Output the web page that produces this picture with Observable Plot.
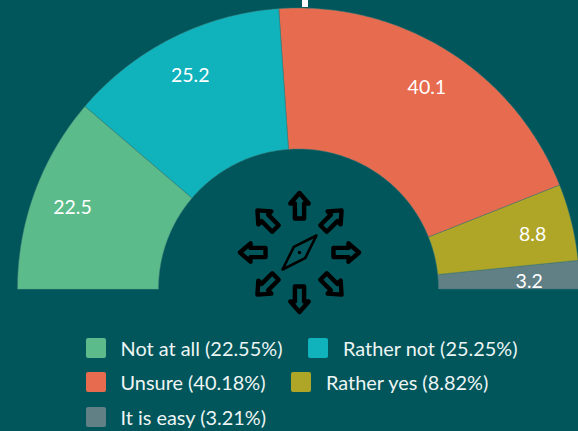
<!DOCTYPE html>
<html>
<head>
<meta charset="utf-8">
<script src="https://cdn.jsdelivr.net/npm/d3@7"></script>
<script src="https://cdn.jsdelivr.net/npm/@observablehq/plot@0.6"></script>
<style>
html,body{margin:0;padding:0;background:#01565b;width:578px;height:431px;overflow:hidden}
svg{display:block}
#legend{position:absolute;left:86px;top:331px;font:19.9px Lato,sans-serif;color:#edf5f4}
.row{display:flex;height:34.3px;align-items:center;white-space:nowrap}
.item{display:flex;align-items:center;margin-right:26px}
.sw{width:20px;height:20px;border-radius:2px;margin-right:14.5px;flex:none}
</style>
</head>
<body>
<div id="chart"></div>
<div id="legend"></div>
<script>
const categories = ["Not at all","Rather not","Unsure","Rather yes","It is easy"];
const shares = [22.55,25.25,40.18,8.82,3.21];
const labels = ["22.5","25.2","40.1","8.8","3.2"];
const colors = ["#5cbb8a","#10b2bc","#e76b4e","#afa527","#618086"];
const iconAngles = [0,45,90,135,180,225,270,315];

const bg = "#01565b";
const W = 578, H = 325, CX = 298.5, CY = 289;
const OUTER = 281, INNER = 140, LABEL_R = 241;
const total = d3.sum(shares);
const ang = p => Math.PI * p / total;     // share position → angle from the left end

// Slices as area bands between the inner and outer radius
let acc = 0;
const bands = [], labelRows = [];
categories.forEach((name,i) => {
  const a0 = ang(acc), a1 = ang(acc + shares[i]);
  const steps = Math.ceil((a1 - a0) / 0.01);
  d3.range(steps + 1).forEach(s => {
    const a = a0 + (a1 - a0) * s / steps;
    const c = -Math.cos(a), n = Math.sin(a);
    bands.push({name, x1: INNER*c, y1: INNER*n, x2: OUTER*c, y2: OUTER*n});
  });
  const m = (a0 + a1) / 2;
  labelRows.push({text: labels[i], x: -LABEL_R*Math.cos(m) - 0.5, y: LABEL_R*Math.sin(m) - 2});
  acc += shares[i];
});
// the thinnest slice's label sits further in, touching the base
labelRows[4].x -= 10;
labelRows[4].y -= 2;

const arrow = {draw(c){
  c.moveTo(0,-59.5); c.lineTo(9.2,-49); c.lineTo(4.6,-49); c.lineTo(4.6,-34);
  c.lineTo(-4.6,-34); c.lineTo(-4.6,-49); c.lineTo(-9.2,-49); c.closePath();
}};
const needle = {draw(c){
  c.moveTo(0,-24); c.lineTo(8,0); c.lineTo(0,24); c.lineTo(-8,0); c.closePath();
}};
const iconY = CY - 252;

const plot = Plot.plot({
  width: W, height: H,
  margin: 0,
  style: {background: bg, fontFamily: "Lato, sans-serif"},
  x: {domain: [-CX, W - CX], range: [0, W], axis: null},
  y: {domain: [CY - H, CY], range: [H, 0], axis: null},
  color: {domain: categories, range: colors},
  marks: [
    Plot.area(bands, {x1:"x1", y1:"y1", x2:"x2", y2:"y2", fill:"name", z:"name", curve:"linear",
      stroke: "#3f7a78", strokeWidth: 0.5}),
    Plot.text(labelRows, {x:"x", y:"y", text:"text", fill:"#ffffff", fontSize:19.5, fontFamily:"Lato, sans-serif"}),
    Plot.vector(iconAngles, {x:()=>0.5, y:()=>iconY, length:1, rotate:d=>d, shape:arrow, anchor:"start",
      stroke:"#000000", strokeWidth:4.4, strokeLinejoin:"round"}),
    Plot.vector([45], {x:()=>0.5, y:()=>iconY, length:1, rotate:d=>d, shape:needle, anchor:"start",
      stroke:"#000000", strokeWidth:2.6, strokeLinejoin:"round"}),
    Plot.dot([0], {x:()=>0.5, y:()=>iconY, r:1.7, fill:"#000000"}),
    Plot.ruleX([6], {y1:CY, y2:CY-7, stroke:"#ffffff", strokeWidth:6})
  ]
});
document.getElementById("chart").append(plot);

// Legend
const rows = [[0,1],[2,3],[4]];
const legend = d3.select("#legend");
rows.forEach(r => {
  const row = legend.append("div").attr("class","row");
  r.forEach(i => {
    const it = row.append("div").attr("class","item");
    it.append("div").attr("class","sw").style("background",colors[i]);
    it.append("span").text(`${categories[i]} (${shares[i].toFixed(2)}%)`);
  });
});
</script>
</body>
</html>
